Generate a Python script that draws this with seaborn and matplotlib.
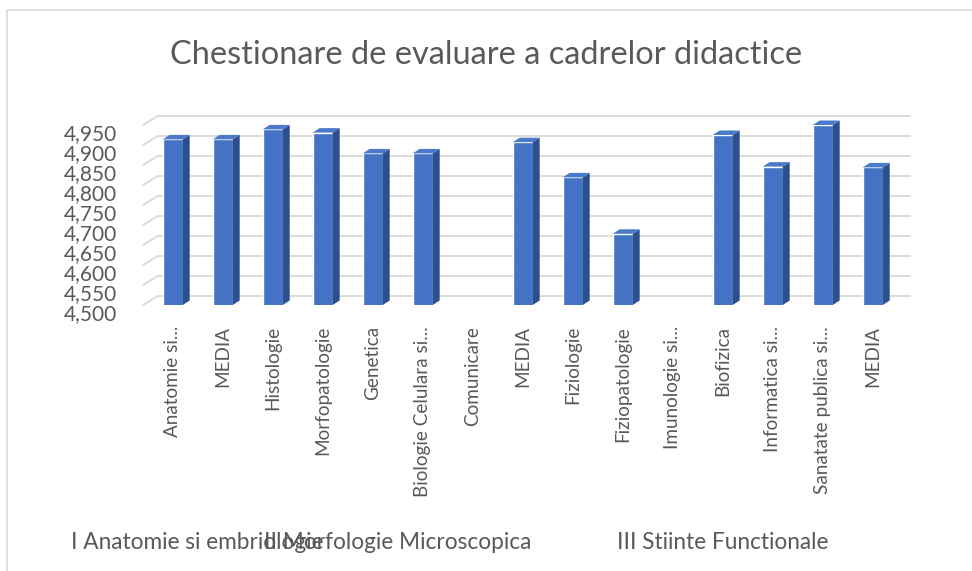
import numpy as np
import pandas as pd
import matplotlib.pyplot as plt
import matplotlib.transforms as mtransforms
from matplotlib.patches import Polygon
from matplotlib.lines import Line2D
import seaborn as sns

# chart values
subjects = ["Anatomie si...", "MEDIA", "Histologie", "Morfopatologie", "Genetica",
            "Biologie Celulara si...", "Comunicare", "MEDIA", "Fiziologie",
            "Fiziopatologie", "Imunologie si...", "Biofizica", "Informatica si...",
            "Sanatate publica si...", "MEDIA"]
scores = [4.914, 4.914, 4.939, 4.931, 4.879, 4.879, np.nan, 4.907, 4.819,
          4.678, np.nan, 4.925, 4.846, 4.950, 4.844]
groups = ["I Anatomie si embriologie", "II Morfologie Microscopica", "III Stiinte Functionale"]
group_sizes = [2, 6, 7]
yticks = [4.50, 4.55, 4.60, 4.65, 4.70, 4.75, 4.80, 4.85, 4.90, 4.95]

df = pd.DataFrame({"pos": range(len(subjects)), "score": scores})

sns.set_style("white")
plt.rcParams["font.family"] = ["Lato", "DejaVu Sans"]
grey = "#595959"
front_col = "#4472C4"
side_col = "#2C4F8E"
top_col = "#4B7ACB"

fig = plt.figure(figsize=(9.72, 5.71), dpi=100)
ax = fig.add_axes([143 / 972, 266 / 571, 767 / 972, 180 / 571])
sns.barplot(data=df, x="pos", y="score", color=front_col, width=0.4,
            saturation=1, ax=ax, zorder=3)
ax.set_ylim(4.5, 4.95)
ax.set_xlim(-0.594, 14.746)
ax.set_xlabel("")
ax.set_ylabel("")
for s in ax.spines.values():
    s.set_visible(False)

# pixel -> data conversion for the fake 3D depth
fig.canvas.draw()
px_x = 1 / (ax.transData.transform((1, 0))[0] - ax.transData.transform((0, 0))[0])
px_y = 1 / (ax.transData.transform((0, 1))[1] - ax.transData.transform((0, 0))[1])

# back wall gridlines + floor diagonals
gdx, gdy = 15 * px_x, 9 * px_y
x0, x1 = ax.get_xlim()
for v in yticks:
    ax.plot([x0 + gdx, x1], [v + gdy, v + gdy], color="#D9D9D9", lw=1.3,
            zorder=1, clip_on=False)
    ax.plot([x0, x0 + gdx], [v, v + gdy], color="#D9D9D9", lw=1.3,
            zorder=1, clip_on=False)

# side and top faces of the bars
bdx, bdy = 7 * px_x, 4.5 * px_y
y0 = ax.get_ylim()[0]
for p in ax.patches:
    h = p.get_height()
    if not np.isfinite(h):
        continue
    xl = p.get_x()
    xr = xl + p.get_width()
    top = min(h, 4.95)
    side = Polygon([(xr, y0), (xr + bdx, y0 + bdy), (xr + bdx, top + bdy), (xr, top)],
                   closed=True, facecolor=side_col, edgecolor="none", zorder=3, clip_on=False)
    cap = Polygon([(xl, top), (xl + bdx, top + bdy), (xr + bdx, top + bdy), (xr, top)],
                  closed=True, facecolor=top_col, edgecolor="none", zorder=3, clip_on=False)
    ax.add_patch(side)
    ax.add_patch(cap)

ax.set_yticks(yticks)
ax.set_yticklabels([f"{v:.3f}".replace(".", ",") for v in yticks])
ax.tick_params(axis="y", length=0, pad=19, labelsize=15, labelcolor=grey)
shift = mtransforms.ScaledTranslation(0, -0.067, fig.dpi_scale_trans)
for lab in ax.get_yticklabels():
    lab.set_transform(lab.get_transform() + shift)

ax.set_xticks(range(len(subjects)))
ax.set_xticklabels(subjects, rotation=90)
ax.tick_params(axis="x", length=0, pad=15, labelsize=13.6, labelcolor=grey)

# group labels under the categories (the first two overlap, as in the original)
start = 0
for g, n in zip(groups, group_sizes):
    centre = start + (n - 1) / 2
    ax.text(centre, -1.317, g, transform=ax.get_xaxis_transform(), ha="center",
            va="center", fontsize=16.3, color=grey)
    start += n

fig.text(486 / 972, 1 - 55 / 571, "Chestionare de evaluare a cadrelor didactice",
         ha="center", va="center", fontsize=23.4, color=grey)

# chart frame
fig.add_artist(Line2D([7 / 972, 7 / 972], [0, 1 - 10 / 571], color="#D9D9D9", lw=1.2))
fig.add_artist(Line2D([7 / 972, 1], [1 - 10 / 571, 1 - 10 / 571], color="#D9D9D9", lw=1.2))

fig.savefig("out.png", dpi=100)
